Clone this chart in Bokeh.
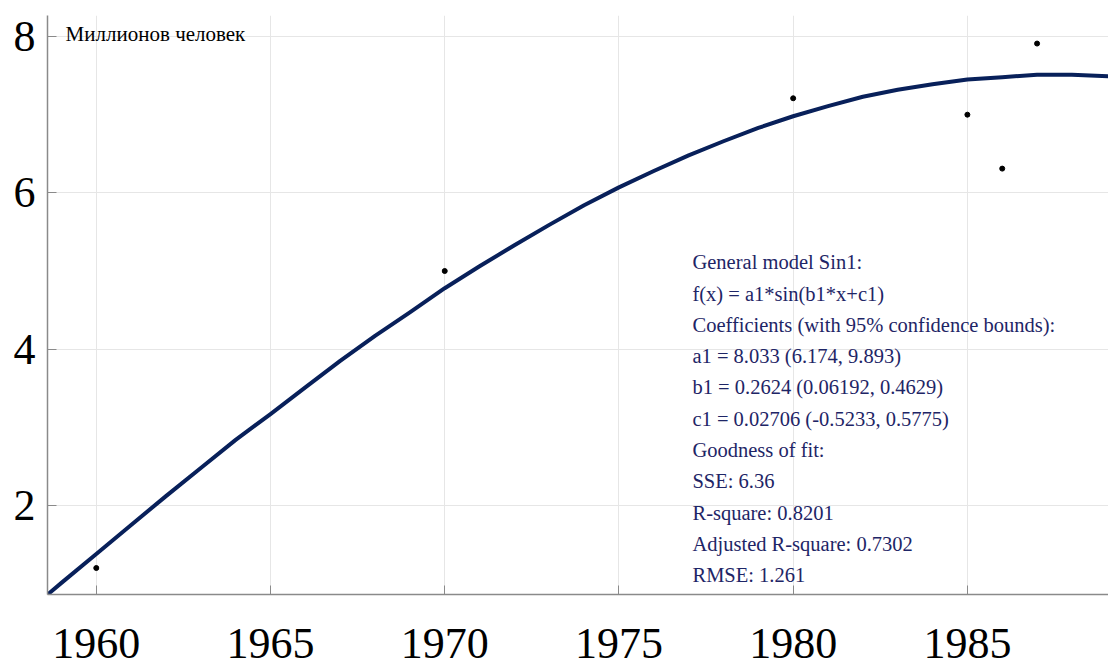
from bokeh.plotting import figure
from bokeh.models import Range1d, FixedTicker, Label, ColumnDataSource
from bokeh.core.properties import value
from bokeh.embed import file_html
from bokeh.resources import INLINE

# observed data (millions of people)
years_obs = [1960, 1970, 1980, 1985, 1986, 1987]
pop_obs = [1.2, 5.0, 7.21, 7.0, 6.31, 7.91]

# fitted curve
fit_years = [1958.6, 1959, 1960, 1961, 1962, 1963, 1964, 1965, 1966, 1967,
             1968, 1969, 1970, 1971, 1972, 1973, 1974, 1975, 1976, 1977,
             1978, 1979, 1980, 1981, 1982, 1983, 1984, 1985, 1986, 1987,
             1988, 1989.1]
fit_vals = [0.86, 1.01, 1.38, 1.75, 2.12, 2.48, 2.84, 3.17, 3.51, 3.85,
            4.17, 4.47, 4.78, 5.06, 5.33, 5.59, 5.84, 6.07, 6.28, 6.48,
            6.66, 6.83, 6.98, 7.11, 7.23, 7.32, 7.39, 7.45, 7.48, 7.51,
            7.51, 7.49]

x_ticks = [1960, 1965, 1970, 1975, 1980, 1985]
y_ticks = [2, 4, 6, 8]

unit_label = "Миллионов человек"
fit_lines = [
    "General model Sin1:",
    "f(x) = a1*sin(b1*x+c1)",
    "Coefficients (with 95% confidence bounds):",
    "a1 = 8.033 (6.174, 9.893)",
    "b1 = 0.2624 (0.06192, 0.4629)",
    "c1 = 0.02706 (-0.5233, 0.5775)",
    "Goodness of fit:",
    "SSE: 6.36",
    "R-square: 0.8201",
    "Adjusted R-square: 0.7302",
    "RMSE: 1.261",
]

SERIF = "Liberation Serif"

p = figure(width=1108, height=668, output_backend="svg", toolbar_location=None,
           x_range=Range1d(1958.6, 1989.05), y_range=Range1d(0.861, 8.269),
           min_border_left=47, min_border_right=0, min_border_top=15,
           min_border_bottom=74)
p.outline_line_color = None
p.background_fill_color = "white"

for ax in (p.xaxis, p.yaxis):
    ax.axis_line_color = "#8a8a8a"
    ax.axis_line_width = 1.5
    ax.major_tick_line_color = "#8a8a8a"
    ax.major_tick_in = 9
    ax.major_tick_out = 0
    ax.minor_tick_line_color = None
    ax.major_label_text_font = SERIF
    ax.major_label_text_font_size = "44px"
    ax.major_label_text_color = "black"

p.xaxis.ticker = FixedTicker(ticks=x_ticks)
p.yaxis.ticker = FixedTicker(ticks=y_ticks)
p.xaxis.major_label_standoff = 34
p.yaxis.major_label_standoff = 12

p.xgrid.ticker = FixedTicker(ticks=x_ticks)
p.ygrid.ticker = FixedTicker(ticks=y_ticks)
p.grid.grid_line_color = "#e6e6e6"
p.grid.grid_line_width = 1

p.line(fit_years, fit_vals, line_color="#08205a", line_width=4, line_join="round")
p.scatter(years_obs, pop_obs, size=5, color="black")

p.add_layout(Label(x=1959.12, y=8.03, text=unit_label, text_font=SERIF,
                   text_font_size="21px", text_color="black",
                   text_baseline="middle"))

src = ColumnDataSource(dict(
    x=[1977.11] * len(fit_lines),
    y=[5.11 - 0.4 * i for i in range(len(fit_lines))],
    t=fit_lines,
))
p.text(x="x", y="y", text="t", source=src, text_font=value(SERIF),
       text_font_size="20.5px", text_color="#1e2566", text_baseline="middle")

open("out.html", "w").write(file_html(p, INLINE))
